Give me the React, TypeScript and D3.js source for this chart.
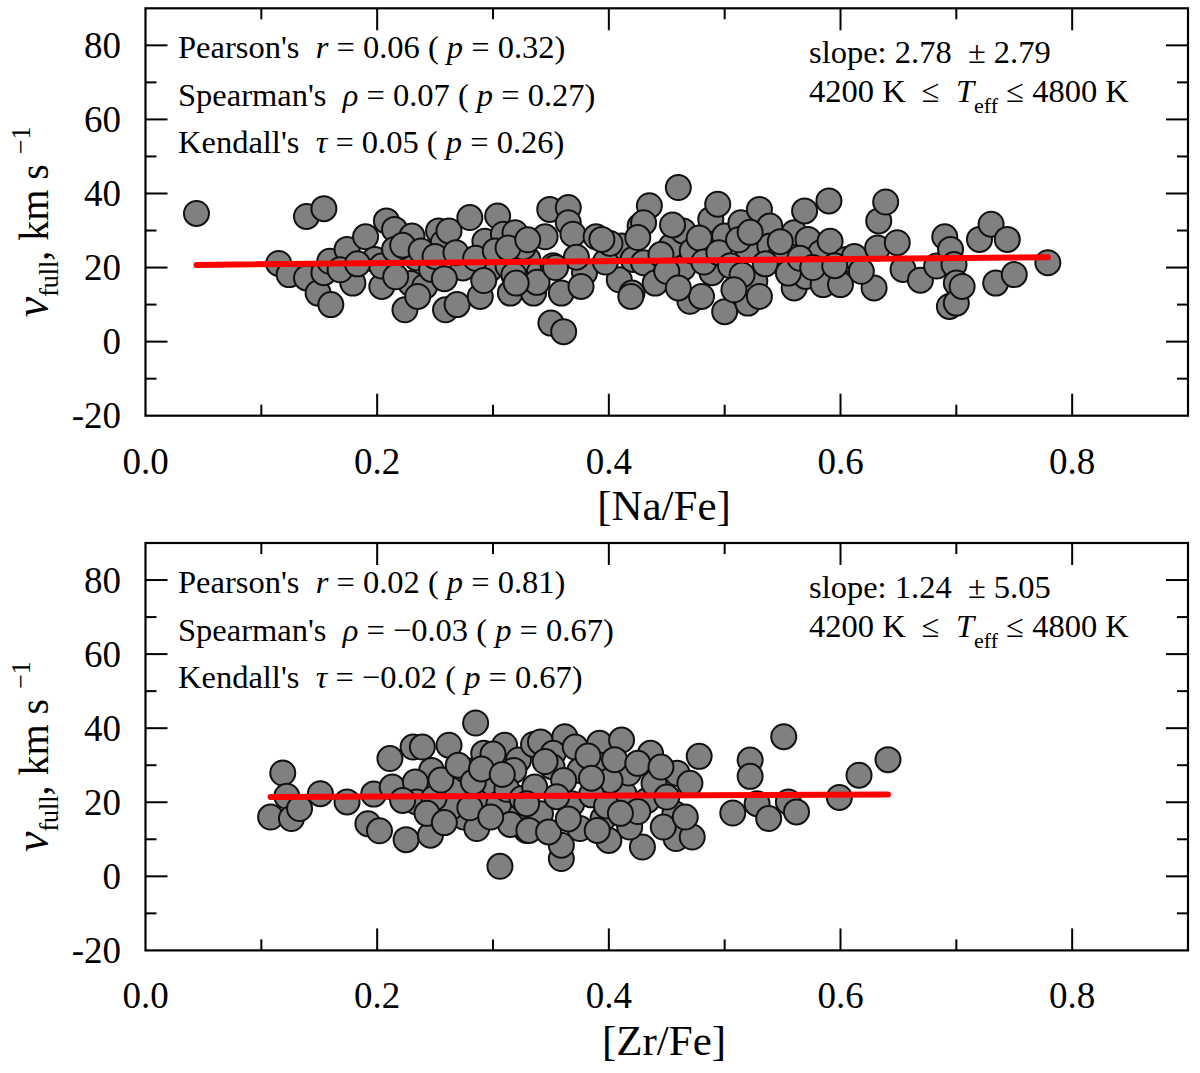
import * as d3 from "d3"

// [Na/Fe] panel
const naFe = [
  0.044, 0.139, 0.154, 0.115, 0.124, 0.139, 0.149, 0.16, 0.154, 0.159, 0.174, 0.179, 0.19, 0.198, 0.208, 0.215,
  0.23, 0.204, 0.204, 0.224, 0.229, 0.241, 0.235, 0.234, 0.215, 0.247, 0.253, 0.257, 0.262, 0.259, 0.269, 0.28,
  0.274, 0.289, 0.293, 0.297, 0.304, 0.309, 0.319, 0.313, 0.315, 0.335, 0.33, 0.34, 0.345, 0.349, 0.365, 0.365,
  0.369, 0.35, 0.361, 0.359, 0.379, 0.376, 0.389, 0.409, 0.411, 0.42, 0.421, 0.427,
  0.168, 0.216, 0.222, 0.238, 0.25, 0.268, 0.285, 0.302, 0.318, 0.326, 0.352, 0.372, 0.338, 0.292, 0.258, 0.397,
  0.401, 0.183, 0.32, 0.354, 0.313, 0.33,
  0.46, 0.435, 0.43, 0.425, 0.419, 0.43, 0.44, 0.454, 0.464, 0.464, 0.47, 0.48, 0.488, 0.494, 0.489, 0.5,
  0.5, 0.514, 0.52, 0.52, 0.53, 0.526, 0.53, 0.539, 0.539, 0.546, 0.56, 0.56, 0.569, 0.572, 0.57, 0.583,
  0.585, 0.59, 0.591, 0.6, 0.605, 0.612, 0.629, 0.633, 0.639, 0.632, 0.649, 0.654, 0.669, 0.683, 0.69, 0.695,
  0.698, 0.7, 0.694, 0.7, 0.705, 0.72, 0.73, 0.744, 0.734, 0.75, 0.779, 0.394,
  0.445, 0.45, 0.472, 0.478, 0.482, 0.495, 0.505, 0.512, 0.515, 0.535, 0.548, 0.555, 0.565, 0.576, 0.595, 0.618,
  0.46, 0.508, 0.455, 0.522,
]
const naVfull = [
  34.6, 33.8, 35.9, 21.1, 18.1, 17.2, 13.1, 10.0, 18.6, 21.7, 24.9, 15.8, 28.3, 22.2, 32.6, 30.3,
  28.5, 14.9, 20.4, 8.6, 15.7, 14.9, 12.2, 22.6, 24.9, 19.5, 29.9, 26.7, 29.9, 8.6, 10.0, 33.5,
  19.9, 12.2, 27.1, 19.5, 33.9, 29.0, 29.4, 20.4, 13.1, 13.1, 22.2, 18.6, 28.3, 35.7, 36.2, 32.1,
  29.0, 5.0, 2.7, 13.1, 18.6, 14.9, 28.3, 16.7, 25.8, 13.1, 22.2, 31.2,
  19.4, 17.5, 26.0, 24.5, 23.0, 24.0, 22.5, 24.5, 18.0, 25.5, 20.5, 22.8, 16.0, 16.5, 17.0, 21.5,
  26.5, 21.0, 15.8, 20.0, 25.3, 27.5,
  41.6, 36.7, 32.1, 28.1, 12.2, 21.3, 15.8, 25.8, 29.9, 19.9, 10.9, 12.2, 33.0, 37.1, 18.6, 8.1,
  28.5, 32.1, 24.9, 10.4, 35.7, 16.3, 12.2, 31.2, 25.8, 22.2, 29.4, 14.5, 35.3, 27.6, 17.6, 24.0,
  15.4, 38.0, 27.1, 15.4, 22.2, 23.0, 14.5, 32.6, 37.7, 25.3, 26.7, 19.5, 16.6, 20.4, 28.3, 24.9,
  20.8, 15.8, 9.5, 10.4, 14.9, 27.6, 31.7, 27.6, 15.8, 18.1, 21.3, 27.6,
  23.5, 19.0, 24.5, 28.0, 21.5, 24.0, 20.5, 27.5, 18.0, 21.0, 27.0, 18.5, 22.5, 20.0, 20.5, 19.0,
  14.5, 14.0, 31.5, 29.5,
]

// [Zr/Fe] panel
const zrFe = [
  0.1185, 0.108, 0.122, 0.126, 0.133, 0.151, 0.174, 0.197, 0.192, 0.202, 0.211, 0.213, 0.225, 0.231, 0.239, 0.246,
  0.247, 0.233, 0.234, 0.262, 0.266, 0.277, 0.285, 0.292, 0.295, 0.275, 0.286, 0.306, 0.31, 0.3, 0.322, 0.321,
  0.329, 0.318, 0.264, 0.249, 0.28, 0.3, 0.335,
  0.255, 0.27, 0.283, 0.29, 0.305, 0.312, 0.315, 0.298, 0.325, 0.308, 0.243, 0.222, 0.258,
  0.341, 0.362, 0.352, 0.371, 0.392, 0.411, 0.436, 0.459, 0.478, 0.47, 0.522, 0.522, 0.551, 0.507, 0.528, 0.538,
  0.555, 0.562, 0.599, 0.616, 0.641, 0.359, 0.359, 0.341, 0.331, 0.375, 0.4, 0.429, 0.458, 0.472, 0.418, 0.457,
  0.368, 0.395, 0.433, 0.413, 0.417, 0.393, 0.375, 0.351, 0.336, 0.361, 0.401, 0.439, 0.45, 0.329, 0.447, 0.39,
  0.466,
  0.345, 0.382, 0.405, 0.425, 0.445, 0.385, 0.355, 0.398, 0.425, 0.348, 0.365, 0.41, 0.385,
]
const zrVfull = [
  27.9, 16.0, 21.6, 15.6, 18.3, 22.3, 20.1, 22.2, 14.2, 12.3, 31.8, 24.1, 9.9, 34.9, 34.9, 11.1,
  28.6, 25.5, 20.1, 35.4, 23.2, 28.6, 41.4, 33.2, 21.4, 16.0, 12.9, 2.7, 35.4, 33.0, 31.4, 17.8,
  12.4, 28.6, 18.7, 21.1, 18.5, 25.0, 35.6,
  26.0, 30.0, 25.5, 29.0, 19.5, 23.5, 14.0, 16.0, 21.0, 27.5, 17.0, 20.5, 14.5,
  36.3, 37.7, 33.2, 34.9, 35.9, 36.8, 33.2, 27.8, 32.4, 25.1, 31.4, 27.0, 37.7, 17.1, 19.6, 15.6,
  20.1, 17.4, 21.3, 27.3, 31.5, 4.8, 8.4, 16.9, 12.4, 12.9, 9.7, 7.9, 10.2, 10.6, 13.3, 16.9,
  19.6, 15.6, 20.5, 22.3, 27.9, 30.0, 28.6, 29.6, 24.1, 25.9, 25.9, 25.1, 21.4, 19.6, 13.3, 12.4,
  16.0,
  31.0, 32.5, 31.5, 30.5, 29.5, 22.0, 21.5, 19.0, 17.5, 12.0, 15.5, 17.0, 26.5,
]

const xTicks = [0, 0.1, 0.2, 0.3, 0.4, 0.5, 0.6, 0.7, 0.8, 0.9]
const yTicks = [-20, -10, 0, 10, 20, 30, 40, 50, 60, 70, 80, 90]

const W = 1200
const H = 1073
const serif = "'Liberation Serif', 'Times New Roman', serif"

type PanelProps = {
  top: number
  xs: number[]
  vs: number[]
  slope: number
  intercept: number
  element: string
  stats: string[][]
  slopeText: string
}

function Panel({ top, xs, vs, slope, intercept, element, stats, slopeText }: PanelProps) {
  const x = d3.scaleLinear().domain([0, 0.9]).range([145.5, 1188])
  const y = d3.scaleLinear().domain([-20, 90]).range([top + 407.4, top])
  const [x0, x1] = d3.extent(xs) as [number, number]
  const fit = d3.line<number>().x((d) => x(d)).y((d) => y(intercept + slope * d))
  const fs = 32.5

  return (
    <g>
      {/* frame */}
      <rect x={x(0)} y={y(90)} width={x(0.9) - x(0)} height={y(-20) - y(90)} fill="none" stroke="#000" strokeWidth={2.2} />
      {xTicks.slice(1, -1).map((t, i) => {
        const len = (i + 1) % 2 === 0 ? 22 : 11
        return (
          <g key={"xt" + t} stroke="#000" strokeWidth={2}>
            <line x1={x(t)} x2={x(t)} y1={y(-20)} y2={y(-20) - len} />
            <line x1={x(t)} x2={x(t)} y1={y(90)} y2={y(90) + len} />
          </g>
        )
      })}
      {yTicks.slice(1, -1).map((t) => {
        const len = t % 20 === 0 ? 22 : 11
        return (
          <g key={"yt" + t} stroke="#000" strokeWidth={2}>
            <line x1={x(0)} x2={x(0) + len} y1={y(t)} y2={y(t)} />
            <line x1={x(0.9)} x2={x(0.9) - len} y1={y(t)} y2={y(t)} />
          </g>
        )
      })}
      {/* tick labels */}
      {xTicks.filter((t, i) => i % 2 === 0 && t < 0.85).map((t) => (
        <text key={"xl" + t} x={x(t)} y={y(-20) + 58} textAnchor="middle" fontFamily={serif} fontSize={37}>
          {t.toFixed(1)}
        </text>
      ))}
      {yTicks.filter((t) => t % 20 === 0).map((t) => (
        <text key={"yl" + t} x={121} y={y(t) + 12.5} textAnchor="end" fontFamily={serif} fontSize={37}>
          {t < 0 ? "-" + Math.abs(t) : t}
        </text>
      ))}
      {/* axis titles */}
      <text x={664} y={top + 512} textAnchor="middle" fontFamily={serif} fontSize={43}>
        [{element}/Fe]
      </text>
      <text
        transform={`translate(48,${top + 309}) rotate(-90) scale(1,1.06)`}
        fontFamily={serif}
        fontSize={40}
        style={{ whiteSpace: "pre" }}
      >
        <tspan fontStyle="italic" fontSize={46}>v</tspan>
        <tspan fontSize={26} dy={9}>full</tspan>
        <tspan dy={-9}>, km s </tspan>
        <tspan fontSize={26} dy={-17}>−1</tspan>
      </text>
      {/* scatter */}
      {xs.map((d, i) => (
        <circle key={i} cx={x(d)} cy={y(vs[i])} r={12.5} fill="#808080" stroke="#111" strokeWidth={2} />
      ))}
      {/* linear fit */}
      <path d={fit([x0, x1]) ?? ""} stroke="#ff0000" strokeWidth={6} strokeLinecap="round" fill="none" />
      {/* statistics */}
      {stats.map((s, i) => (
        <text key={s[0]} x={178} y={top + 50 + i * 47.5} fontFamily={serif} fontSize={fs} style={{ whiteSpace: "pre" }}>
          {s[0]}
          <tspan fontStyle="italic">{"  " + s[1]}</tspan>
          {" = " + s[2] + " ( "}
          <tspan fontStyle="italic">p</tspan>
          {" = " + s[3] + ")"}
        </text>
      ))}
      <text x={809} y={top + 55} fontFamily={serif} fontSize={fs} style={{ whiteSpace: "pre" }}>
        {slopeText}
      </text>
      <text x={809} y={top + 93.5} fontFamily={serif} fontSize={fs} style={{ whiteSpace: "pre" }}>
        {"4200 K  ≤  "}
        <tspan fontStyle="italic">T</tspan>
        <tspan fontSize={22} dy={11}>eff</tspan>
        <tspan dy={-11}>{" ≤ 4800 K"}</tspan>
      </text>
    </g>
  )
}

export default function App() {
  return (
    <>
      <style>{"body{margin:0}"}</style>
      <svg width={W} height={H} viewBox={`0 0 ${W} ${H}`} style={{ display: "block", background: "#fff" }}>
        <Panel
          top={8.3}
          xs={naFe}
          vs={naVfull}
          slope={2.78}
          intercept={20.6}
          element="Na"
          stats={[
            ["Pearson's", "r", "0.06", "0.32"],
            ["Spearman's", "ρ", "0.07", "0.27"],
            ["Kendall's", "τ", "0.05", "0.26"],
          ]}
          slopeText="slope: 2.78  ± 2.79"
        />
        <Panel
          top={543}
          xs={zrFe}
          vs={zrVfull}
          slope={1.24}
          intercept={21.27}
          element="Zr"
          stats={[
            ["Pearson's", "r", "0.02", "0.81"],
            ["Spearman's", "ρ", "−0.03", "0.67"],
            ["Kendall's", "τ", "−0.02", "0.67"],
          ]}
          slopeText="slope: 1.24  ± 5.05"
        />
      </svg>
    </>
  )
}
